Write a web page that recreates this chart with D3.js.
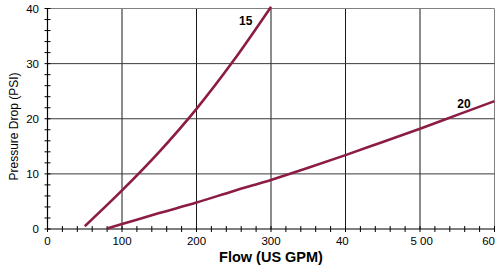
<!DOCTYPE html>
<html lang="en">
<head>
  <meta charset="UTF-8">
  <title>Pressure Drop</title>
  <style>
    body{margin: 0; background: #fff;}
    svg{display: block; font-family: Arial, "Liberation Sans", Helvetica, sans-serif;}
  </style>
</head>
<body>
  <div id="chart"></div>
  <script src="https://d3js.org/d3.v7.min.js"></script>
  <script>
  // DATA
  const flow15 = [50, 100, 150, 200, 250, 300];
  const drop15 = [0.5, 7, 14, 21.8, 30.6, 40.3];
  const flow20 = [80, 100, 150, 200, 250, 300, 350, 400, 450, 500, 550, 600];
  const drop20 = [0.1, 0.9, 2.9, 4.8, 6.9, 8.9, 11.1, 13.4, 15.8, 18.2, 20.7, 23.2];
  const seriesNames = ["15", "20"];
  const xTicks = [0, 100, 200, 300, 400, 500, 600];
  const xTickLabels = ["0", "100", "200", "300", "40", "5 00", "60"];
  const yTicks = [0, 10, 20, 30, 40];
  const yTickLabels = ["0", "10", "20", "30", "40"];

  // CONSTANTS
  const width = 496;
  const height = 277;
  const cline = "#8c1c46";

  const x = d3.scaleLinear().domain([0, 600]).range([47.5, 494.5]);
  const y = d3.scaleLinear().domain([0, 40]).range([229, 8.5]);

  const svg = d3.select("#chart").append("svg")
    .attr("width", width)
    .attr("height", height);

  // GRID
  svg.append("g")
    .selectAll("line")
    .data(xTicks.slice(1))
    .join("line")
    .attr("x1", d => x(d)).attr("x2", d => x(d))
    .attr("y1", y(0)).attr("y2", y(40))
    .attr("stroke", d => d === 600 ? "#808080" : "#1a1a1a")
    .attr("stroke-width", 1);

  svg.append("g")
    .selectAll("line")
    .data(yTicks.slice(1))
    .join("line")
    .attr("x1", x(0)).attr("x2", x(600))
    .attr("y1", d => y(d)).attr("y2", d => y(d))
    .attr("stroke", d => d === 40 ? "#808080" : "#3a3a3a")
    .attr("stroke-width", 1);

  // AXES (ticks cross the axis line)
  const xAxis = svg.append("g").attr("transform", `translate(0,${y(0)})`);
  xAxis.append("line")
    .attr("x1", x(0)).attr("x2", x(600))
    .attr("stroke", "#000").attr("stroke-width", 1.2);
  xAxis.selectAll("line.tk")
    .data(d3.range(0, 601, 20))
    .join("line").attr("class", "tk")
    .attr("x1", d => x(d)).attr("x2", d => x(d))
    .attr("y1", -3).attr("y2", 3)
    .attr("stroke", "#000");

  const yAxis = svg.append("g").attr("transform", `translate(${x(0)},0)`);
  yAxis.append("line")
    .attr("y1", y(0)).attr("y2", y(40))
    .attr("stroke", "#000").attr("stroke-width", 1.2);
  yAxis.selectAll("line.tk")
    .data(d3.range(0, 41, 2))
    .join("line").attr("class", "tk")
    .attr("y1", d => y(d)).attr("y2", d => y(d))
    .attr("x1", -3).attr("x2", 3)
    .attr("stroke", "#000");

  // TICK LABELS - placed as if full number was centred on the tick
  const xLab = svg.append("g")
    .style("font-size", "11.5px")
    .attr("fill", "#000");
  xTicks.forEach((v, i) => {
    const tmp = xLab.append("text").text(String(v));
    const full = tmp.node().getComputedTextLength();
    tmp.remove();
    const t = xLab.append("text")
      .attr("y", 245)
      .attr("text-anchor", "start")
      .text(xTickLabels[i]);
    const w = t.node().getComputedTextLength();
    t.attr("x", Math.min(x(v) - full / 2, width - w - 1));
  });

  svg.append("g")
    .style("font-size", "11.5px")
    .selectAll("text")
    .data(yTicks)
    .join("text")
    .attr("x", 39)
    .attr("y", d => y(d) + 4)
    .attr("text-anchor", "end")
    .text((d, i) => yTickLabels[i]);

  // AXIS TITLES
  svg.append("text")
    .attr("x", 271)
    .attr("y", 262)
    .attr("text-anchor", "middle")
    .style("font-size", "14.5px")
    .style("font-weight", "bold")
    .text("Flow (US GPM)");

  svg.append("text")
    .attr("transform", "translate(18,126.5) rotate(-90)")
    .attr("text-anchor", "middle")
    .style("font-size", "12px")
    .text("Pressure Drop (PSI)");

  // CURVES
  const line = d3.line()
    .x(d => x(d[0]))
    .y(d => y(d[1]))
    .curve(d3.curveMonotoneX);

  const curves = [d3.zip(flow15, drop15), d3.zip(flow20, drop20)];

  svg.append("g")
    .selectAll("path")
    .data(curves)
    .join("path")
    .attr("d", line)
    .attr("fill", "none")
    .attr("stroke", cline)
    .attr("stroke-width", 2.6)
    .attr("stroke-linecap", "butt");

  // SERIES LABELS
  const labelAt = [[266, 37], [559, 21.9]];
  svg.append("g")
    .style("font-size", "12px")
    .style("font-weight", "bold")
    .selectAll("text")
    .data(seriesNames)
    .join("text")
    .attr("x", (d, i) => x(labelAt[i][0]))
    .attr("y", (d, i) => y(labelAt[i][1]))
    .attr("text-anchor", "middle")
    .text(d => d);
  </script>
</body>
</html>
